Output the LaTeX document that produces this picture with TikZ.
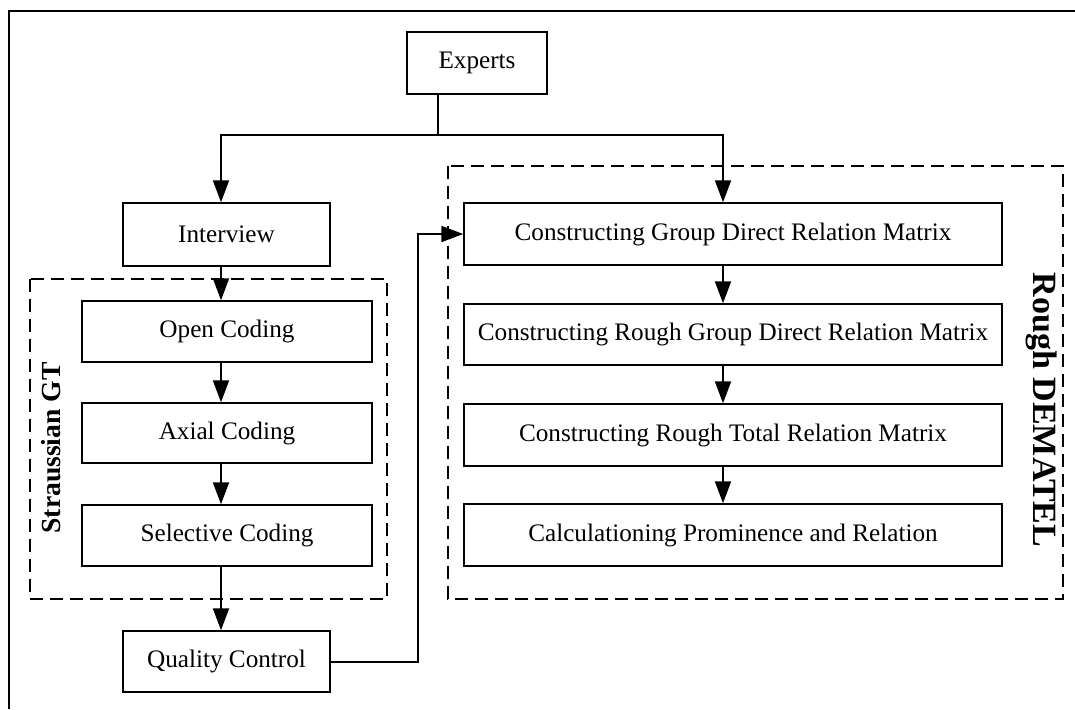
\documentclass[tikz,border=0pt]{standalone}
\usepackage{fontspec}
\setmainfont{Liberation Serif}
\usepackage{tikz}
\usetikzlibrary{arrows.meta}
\tikzset{every path/.style={line width=0.75pt}}
\tikzset{stepbox/.style={draw,rectangle,inner sep=0pt,font=\fontsize{12.6}{15}\selectfont}}
\tikzset{arr/.style={line width=1pt,-{Triangle[length=11pt,width=8pt]}}}
\tikzset{group/.style={dash pattern=on 6.5pt off 3.5pt}}

\begin{document}
\begin{tikzpicture}[x=0.5pt,y=-0.5pt]
\useasboundingbox (0,0) rectangle (1075,709);
\draw[line width=1.3pt] (9,709) -- (9,11) -- (1075,11);
% boxes
\node[stepbox,minimum width=70pt,minimum height=31pt] (experts) at (477,63) {Experts};
\node[stepbox,minimum width=103.5pt,minimum height=31.5pt] (interview) at (226.5,234.5) {Interview};
\node[stepbox,minimum width=145pt,minimum height=30.5pt] (open) at (227,331.5) {Open Coding};
\node[stepbox,minimum width=145pt,minimum height=30pt] (axial) at (227,433) {Axial Coding};
\node[stepbox,minimum width=145pt,minimum height=30.5pt] (selective) at (227,535.5) {Selective Coding};
\node[stepbox,minimum width=103.5pt,minimum height=30.5pt] (quality) at (226.5,661.5) {Quality Control};
\node[stepbox,minimum width=269pt,minimum height=31pt] (grm) at (733,234) {Constructing Group Direct Relation Matrix};
\node[stepbox,minimum width=269pt,minimum height=30.5pt] (rgrm) at (733,334.5) {Constructing Rough Group Direct Relation Matrix};
\node[stepbox,minimum width=269pt,minimum height=31pt] (rtrm) at (733,435) {Constructing Rough Total Relation Matrix};
\node[stepbox,minimum width=269pt,minimum height=31pt] (prom) at (733,535) {Calculationing Prominence and Relation};
% groups
\draw[group] (30,279) rectangle (387,599);
\draw[group] (448,166) rectangle (1063,599);
\node[rotate=90,font=\fontsize{13.8}{16}\selectfont\bfseries] (gt) at (51,448) {Straussian GT};
\node[rotate=-90,font=\fontsize{17}{20}\selectfont\bfseries] (dematel) at (1042,410) {Rough DEMATEL};
% connectors
\coordinate (ex) at (438,135);
\coordinate (lx) at (221,0);
\coordinate (rx) at (723,0);
\coordinate (qbend) at (418,0);
\draw[line width=1pt] (experts.south -| ex) -- (ex);
\draw[arr] (ex) -| (interview.north -| lx);
\draw[arr] (ex) -| (grm.north -| rx);
\draw[arr] (interview.south -| lx) -- (open.north -| lx);
\draw[arr] (open.south -| lx) -- (axial.north -| lx);
\draw[arr] (axial.south -| lx) -- (selective.north -| lx);
\draw[arr] (selective.south -| lx) -- (quality.north -| lx);
\draw[arr] (quality.east) -| (qbend |- grm.west) -- (grm.west);
\draw[arr] (grm.south -| rx) -- (rgrm.north -| rx);
\draw[arr] (rgrm.south -| rx) -- (rtrm.north -| rx);
\draw[arr] (rtrm.south -| rx) -- (prom.north -| rx);
\end{tikzpicture}
\end{document}
